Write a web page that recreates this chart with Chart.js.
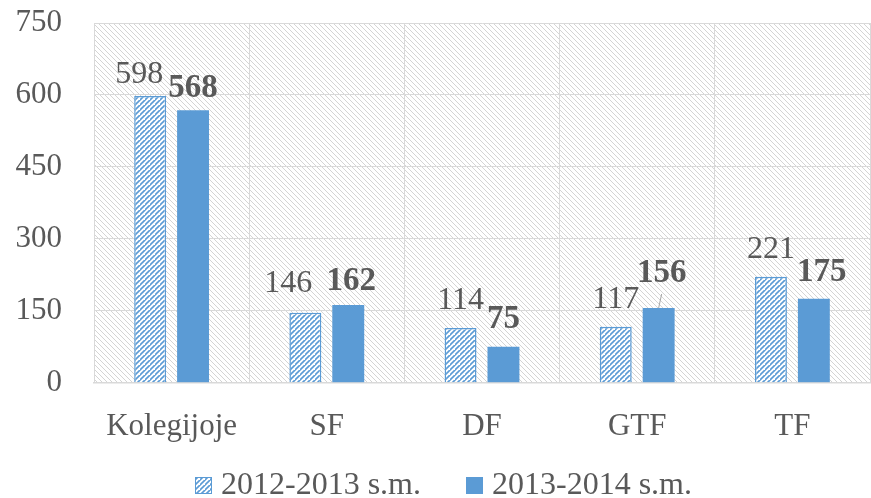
<!DOCTYPE html>
<html>
<head>
<meta charset="utf-8">
<script src="https://cdn.jsdelivr.net/npm/chart.js@4.4.1/dist/chart.umd.min.js"></script>
<style>
  html, body { margin: 0; padding: 0; background: #fff; }
  #wrap { width: 871px; height: 498px; }
</style>
</head>
<body>
<div id="wrap"><canvas id="chart"></canvas></div>
<script>
const categories = ["Kolegijoje", "SF", "DF", "GTF", "TF"];
const series2012 = [598, 146, 114, 117, 221];
const series2013 = [568, 162, 75, 156, 175];
const seriesNames = ["2012-2013 s.m.", "2013-2014 s.m."];

const FONT = "'Liberation Serif', serif";
const TEXT = "#595959";
const BLUE = "#5b9bd5";

// label nudges (Excel moved some labels to avoid overlap)
const labelDx = [[-11, -17, 0, 0, 0], [0, 3, 0, 3, 8]];
const labelGap = [[13, 21, 19, 19, 19], [13, 15, 19, 26, 18]];
const leader = [[false, false, false, false, false], [false, false, false, true, false]];

function makeHatch(color, bg, forward, step, width) {
  const c = document.createElement("canvas");
  c.width = step; c.height = step;
  const g = c.getContext("2d");
  g.fillStyle = bg;
  g.fillRect(0, 0, step, step);
  g.strokeStyle = color;
  g.lineWidth = width;
  g.beginPath();
  if (forward) {
    g.moveTo(-1, step + 1); g.lineTo(step + 1, -1);
    g.moveTo(-step - 1, step + 1); g.lineTo(1, -1);
    g.moveTo(step - 1, 2 * step + 1); g.lineTo(2 * step + 1, step - 1);
  } else {
    g.moveTo(-1, -1); g.lineTo(step + 1, step + 1);
    g.moveTo(-step - 1, -1); g.lineTo(1, step + 1);
    g.moveTo(step - 1, -1); g.lineTo(2 * step + 1, step + 1);
  }
  g.stroke();
  return g.createPattern(c, "repeat");
}

const ctx = document.getElementById("chart").getContext("2d");
const barHatch = makeHatch(BLUE, "#ffffff", true, 5, 1.6);
const bgHatch = makeHatch("#d4d4d4", "#ffffff", false, 5, 1);

const plotBackground = {
  id: "plotBackground",
  beforeDraw(chart) {
    const a = chart.chartArea;
    const c = chart.ctx;
    c.save();
    c.fillStyle = bgHatch;
    c.fillRect(a.left, a.top, a.right - a.left, a.bottom - a.top);
    c.restore();
  }
};

const valueLabels = {
  id: "valueLabels",
  afterDatasetsDraw(chart) {
    const c = chart.ctx;
    c.save();
    c.textAlign = "center";
    c.textBaseline = "alphabetic";
    c.fillStyle = TEXT;
    chart.data.datasets.forEach((ds, di) => {
      const meta = chart.getDatasetMeta(di);
      c.font = (di === 1 ? "bold 33px " : "32px ") + FONT;
      meta.data.forEach((bar, i) => {
        const x = bar.x + labelDx[di][i];
        const y = bar.y - labelGap[di][i];
        if (leader[di][i]) {
          c.strokeStyle = "#a6a6a6";
          c.lineWidth = 1;
          c.beginPath();
          c.moveTo(bar.x, bar.y);
          c.lineTo(x, y + 12);
          c.stroke();
        }
        c.fillText(String(ds.data[i]), x, y);
      });
    });
    c.restore();
  }
};

// legend drawn by hand so the box/text spacing matches Excel
const bottomLegend = {
  id: "bottomLegend",
  afterDraw(chart) {
    const c = chart.ctx;
    c.save();
    c.font = "32px " + FONT;
    c.textBaseline = "alphabetic";
    c.fillStyle = TEXT;
    const box = 17, gapText = 9, gapItem = 45;
    const widths = seriesNames.map(t => c.measureText(t).width);
    const total = widths.reduce((s, w) => s + box + gapText + w, 0) + gapItem;
    let x = chart.width / 2 + 8 - total / 2;
    const base = 494;
    chart.data.datasets.forEach((ds, i) => {
      c.fillStyle = ds.backgroundColor;
      c.fillRect(x, base - box, box, box);
      if (i === 0) {
        c.strokeStyle = BLUE;
        c.lineWidth = 1;
        c.strokeRect(x + 0.5, base - box + 0.5, box - 1, box - 1);
      }
      c.fillStyle = TEXT;
      c.fillText(seriesNames[i], x + box + gapText, base);
      x += box + gapText + widths[i] + gapItem;
    });
    c.restore();
  }
};

new Chart(ctx, {
  type: "bar",
  data: {
    labels: categories,
    datasets: [
      {
        label: seriesNames[0],
        data: series2012,
        backgroundColor: barHatch,
        borderColor: BLUE,
        borderWidth: 1.5,
        categoryPercentage: 0.553,
        barPercentage: 0.744
      },
      {
        label: seriesNames[1],
        data: series2013,
        backgroundColor: BLUE,
        borderColor: BLUE,
        borderWidth: 0,
        categoryPercentage: 0.553,
        barPercentage: 0.744
      }
    ]
  },
  options: {
    responsive: true,
    maintainAspectRatio: false,
    animation: false,
    layout: { padding: { top: 23, right: 1, left: 0, bottom: 28 } },
    plugins: {
      tooltip: { enabled: false },
      legend: { display: false }
    },
    scales: {
      x: {
        grid: { color: "#d9d9d9", lineWidth: 1, offset: true, drawTicks: false },
        border: { color: "#d9d9d9", width: 1.5 },
        ticks: { color: TEXT, font: { family: FONT, size: 31 }, padding: 25 },
        afterFit(scale) { scale.paddingLeft = 0; scale.paddingRight = 0; }
      },
      y: {
        min: 0,
        max: 750,
        afterFit(scale) {
          scale.width = 94;
          scale.paddingTop = 0;
          scale.paddingBottom = 0;
        },
        grid: { color: "#d9d9d9", lineWidth: 1, drawTicks: false },
        border: { color: "#d9d9d9", width: 1 },
        ticks: { stepSize: 150, color: TEXT, font: { family: FONT, size: 31 }, padding: 32 }
      }
    }
  },
  plugins: [plotBackground, valueLabels, bottomLegend]
});
</script>
</body>
</html>
